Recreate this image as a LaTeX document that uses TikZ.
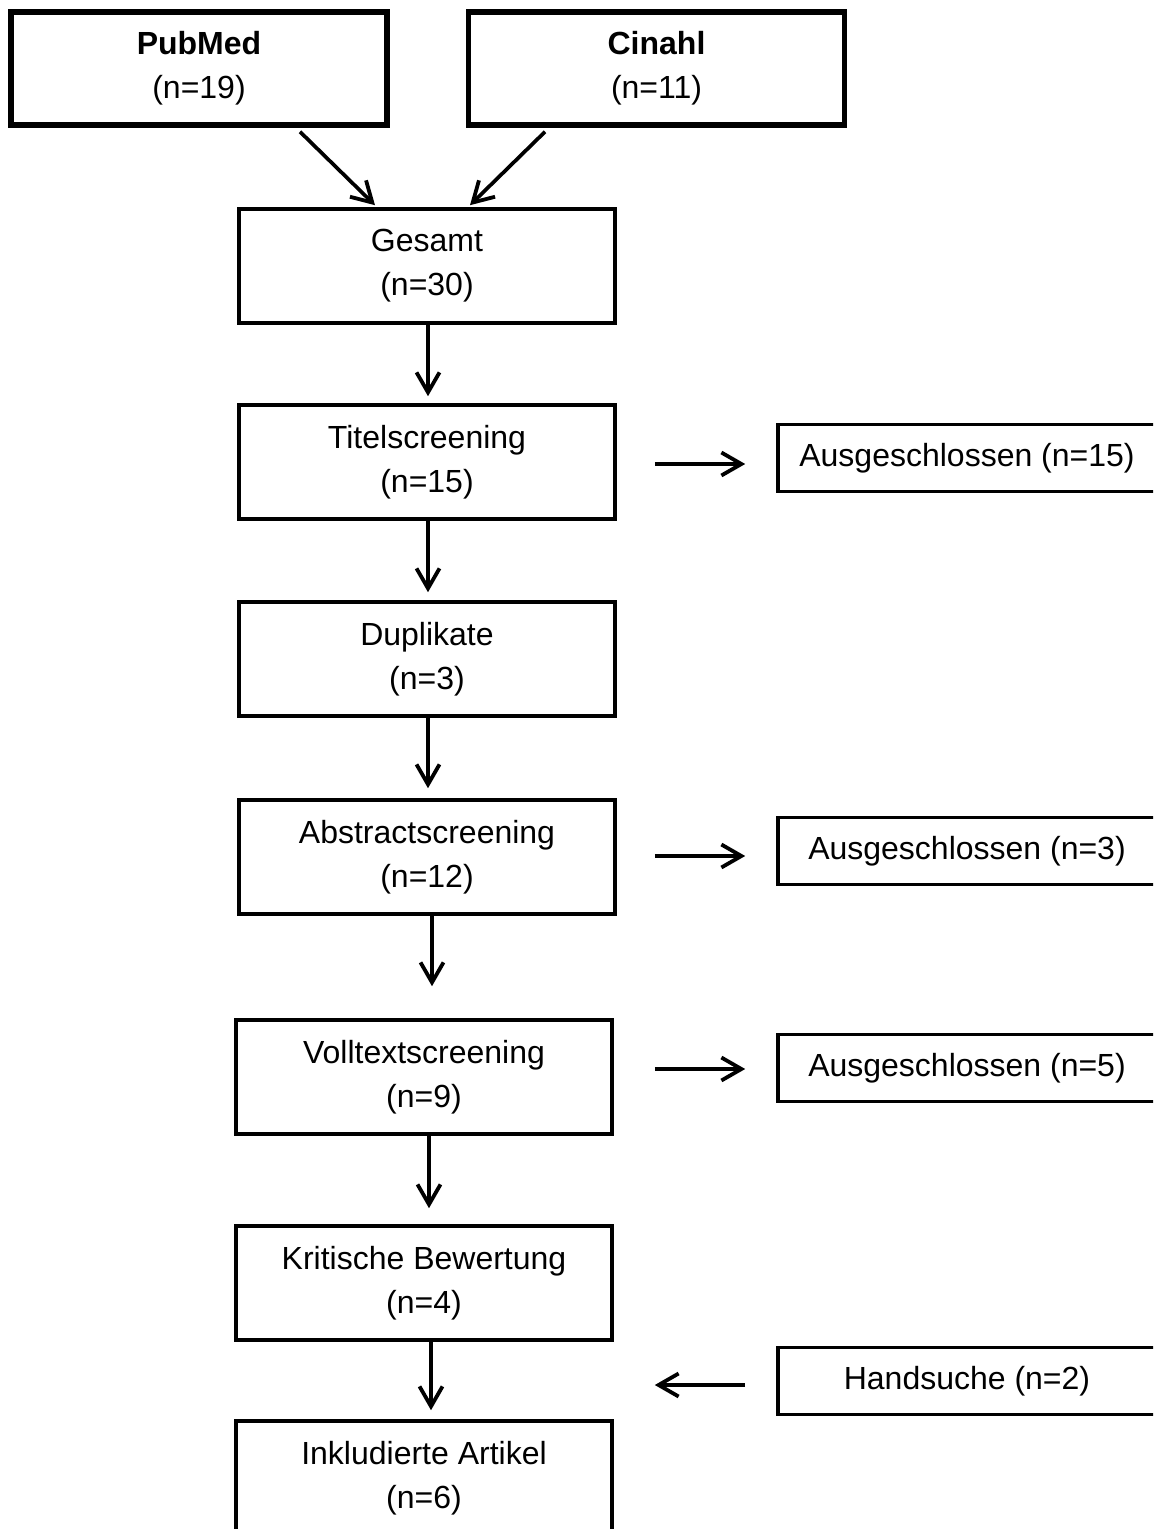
\documentclass[tikz,border=0pt]{standalone}
\usepackage{fontspec}
\setmainfont{Liberation Sans}
\usetikzlibrary{arrows.meta,calc}
\begin{document}
\begin{tikzpicture}[x=0.5pt,y=-0.5pt,
  txt/.style={font=\fontsize{16pt}{22pt}\selectfont, align=center, inner sep=0pt},
  mainbox/.style={txt, draw, line width=1.8pt, minimum width=188pt, minimum height=57pt},
  srcbox/.style={txt, draw, line width=2.75pt, minimum width=188pt, minimum height=56.5pt},
  sidebox/.style={txt, draw, line width=1.8pt, minimum width=189pt, minimum height=33.5pt},
  arr/.style={line width=1.85pt, -{Straight Barb[length=10pt,width=11.5pt,line width=1.9pt]}}
]
\useasboundingbox (0,0) rectangle (1153,1529);
\clip (0,0) rectangle (1153,1529);
\fill[white] (0,0) rectangle (1153,1529);

\node[srcbox] (pubmed) at (199,68.5) {\textbf{PubMed}\\(n=19)};
\node[srcbox] (cinahl) at (656.5,68.5) {\textbf{Cinahl}\\(n=11)};

\node[mainbox] (gesamt) at (427,266) {Gesamt\\(n=30)};
\node[mainbox] (titel) at (427,462) {Titelscreening\\(n=15)};
\node[mainbox] (dup) at (427,659) {Duplikate\\(n=3)};
\node[mainbox] (abs) at (427,857) {Abstractscreening\\(n=12)};
\node[mainbox] (voll) at (424,1077) {Volltextscreening\\(n=9)};
\node[mainbox] (krit) at (424,1283) {Kritische Bewertung\\(n=4)};
\node[mainbox] (ink) at (424,1478) {Inkludierte Artikel\\(n=6)};

\node[sidebox] (aus15) at (967,458) {Ausgeschlossen (n=15)};
\node[sidebox] (aus3) at (967,851) {Ausgeschlossen (n=3)};
\node[sidebox] (aus5) at (967,1068) {Ausgeschlossen (n=5)};
\node[sidebox] (hand) at (967,1381) {Handsuche (n=2)};

\draw[arr] ($(pubmed.south)+(101,4)$) -- ($(gesamt.north)+(-52,-2)$);
\draw[arr] ($(cinahl.south)+(-111.5,4)$) -- ($(gesamt.north)+(43,-2)$);

\draw[arr] ($(gesamt.south)+(1,-1)$) -- ($(titel.north)+(1,-7)$);
\draw[arr] ($(titel.south)+(1,-1)$) -- ($(dup.north)+(1,-8)$);
\draw[arr] ($(dup.south)+(1,-1)$) -- ($(abs.north)+(1,-10)$);
\draw[arr] ($(abs.south)+(5,-1)$) -- ($(voll.north)+(8,-32)$);
\draw[arr] ($(voll.south)+(5,-1)$) -- ($(krit.north)+(5,-16)$);
\draw[arr] ($(krit.south)+(7,-1)$) -- ($(ink.north)+(7,-9)$);

\draw[arr] ($(titel.east)+(38,2)$) -- ($(titel.east -| aus15.west)+(-31,2)$);
\draw[arr] ($(abs.east)+(38,-1)$) -- ($(abs.east -| aus3.west)+(-31,-1)$);
\draw[arr] ($(voll.east)+(41,-8)$) -- ($(voll.east -| aus5.west)+(-31,-8)$);
\draw[arr] ($(hand.west)+(-31,4)$) -- ($(krit.east |- hand.west)+(41,4)$);
\end{tikzpicture}
\end{document}
